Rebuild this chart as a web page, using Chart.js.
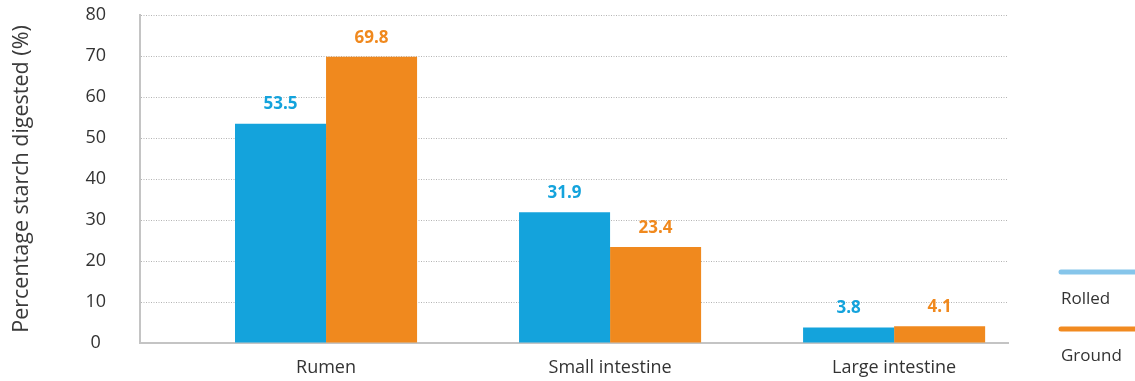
<!DOCTYPE html>
<html>
<head>
<meta charset="utf-8">
<script src="https://cdn.jsdelivr.net/npm/chart.js@4.4.1/dist/chart.umd.min.js"></script>
<style>
  html, body { margin: 0; padding: 0; background: #ffffff; }
  #wrap { width: 1135px; height: 381px; position: relative; }
</style>
</head>
<body>
<div id="wrap"><canvas id="chart"></canvas></div>
<script>
// Starch digestion by site, rolled vs ground grain
const categories = ['Rumen', 'Small intestine', 'Large intestine'];
const rolled = [53.5, 31.9, 3.8];
const ground = [69.8, 23.4, 4.1];
const seriesNames = ['Rolled', 'Ground'];
const yMin = 0;
const yMax = 80;
const yStep = 10;

const BAR_COLORS = ['#14a3dc', '#f0891e'];
const LEGEND_COLORS = ['#86c5ea', '#f18a20'];
const TEXT_COLOR = '#333333';
const FONT = '"Open Sans", Lato, sans-serif';

const toPoints = arr => arr.map((v, i) => ({ x: i + 1, y: v }));

// Value labels above each bar, in the bar colour
const valueLabels = {
  id: 'valueLabels',
  afterDatasetsDraw(chart) {
    const ctx = chart.ctx;
    ctx.save();
    ctx.font = 'bold 17px ' + FONT;
    ctx.textAlign = 'center';
    ctx.textBaseline = 'middle';
    chart.data.datasets.forEach((ds, di) => {
      const meta = chart.getDatasetMeta(di);
      ctx.fillStyle = ds.backgroundColor;
      meta.data.forEach((bar, i) => {
        const v = ds.data[i].y;
        ctx.fillText(v.toFixed(1), bar.x, bar.y - 19);
      });
    });
    ctx.restore();
  }
};

// Legend at the right: a rounded line over each series name
const sideLegend = {
  id: 'sideLegend',
  afterDraw(chart) {
    const ctx = chart.ctx;
    const x0 = chart.chartArea.right + 53;
    const x1 = chart.width + 6;
    ctx.save();
    chart.data.datasets.forEach((ds, di) => {
      const y = 272 + di * 57;
      ctx.strokeStyle = LEGEND_COLORS[di];
      ctx.lineWidth = 5;
      ctx.lineCap = 'round';
      ctx.beginPath();
      ctx.moveTo(x0, y);
      ctx.lineTo(x1, y);
      ctx.stroke();
      ctx.fillStyle = TEXT_COLOR;
      ctx.font = '17px ' + FONT;
      ctx.textAlign = 'left';
      ctx.textBaseline = 'middle';
      ctx.fillText(ds.label, x0, y + 27);
    });
    ctx.restore();
  }
};

new Chart(document.getElementById('chart'), {
  type: 'bar',
  data: {
    datasets: [
      { label: seriesNames[0], data: toPoints(rolled), backgroundColor: BAR_COLORS[0] },
      { label: seriesNames[1], data: toPoints(ground), backgroundColor: BAR_COLORS[1] }
    ]
  },
  options: {
    responsive: true,
    maintainAspectRatio: false,
    animation: false,
    events: [],
    categoryPercentage: 0.641,
    barPercentage: 1.0,
    layout: { padding: { top: 15, right: 127, bottom: 0, left: 0 } },
    plugins: {
      legend: { display: false },
      tooltip: { enabled: false }
    },
    scales: {
      x: {
        type: 'linear',
        offset: false,
        min: 0.345,
        max: 3.401,
        afterBuildTicks(scale) {
          scale.ticks = categories.map((c, i) => ({ value: i + 1 }));
        },
        afterFit(scale) { scale.height = 38; },
        grid: { display: false, drawTicks: false, offset: false },
        border: { display: true, color: '#c4c4c4', width: 2 },
        ticks: {
          padding: 14,
          color: TEXT_COLOR,
          font: { family: FONT, size: 18 },
          callback: v => categories[v - 1] || ''
        }
      },
      y: {
        min: yMin,
        max: yMax,
        afterFit(scale) {
          scale.width = 140;
          scale.paddingTop = 0;
          scale.paddingBottom = 0;
        },
        ticks: {
          stepSize: yStep,
          padding: 34,
          crossAlign: 'center',
          color: TEXT_COLOR,
          font: { family: FONT, size: 18 }
        },
        grid: {
          color: '#b4b4b4',
          lineWidth: 1,
          drawTicks: false
        },
        border: { display: true, color: '#c4c4c4', width: 2, dash: [1, 1.5] },
        title: {
          display: true,
          text: 'Percentage starch digested (%)',
          color: '#3a3a3a',
          padding: { top: 9, bottom: 0 },
          font: { family: FONT, size: 21.5 }
        }
      }
    }
  },
  plugins: [valueLabels, sideLegend]
});
</script>
</body>
</html>
